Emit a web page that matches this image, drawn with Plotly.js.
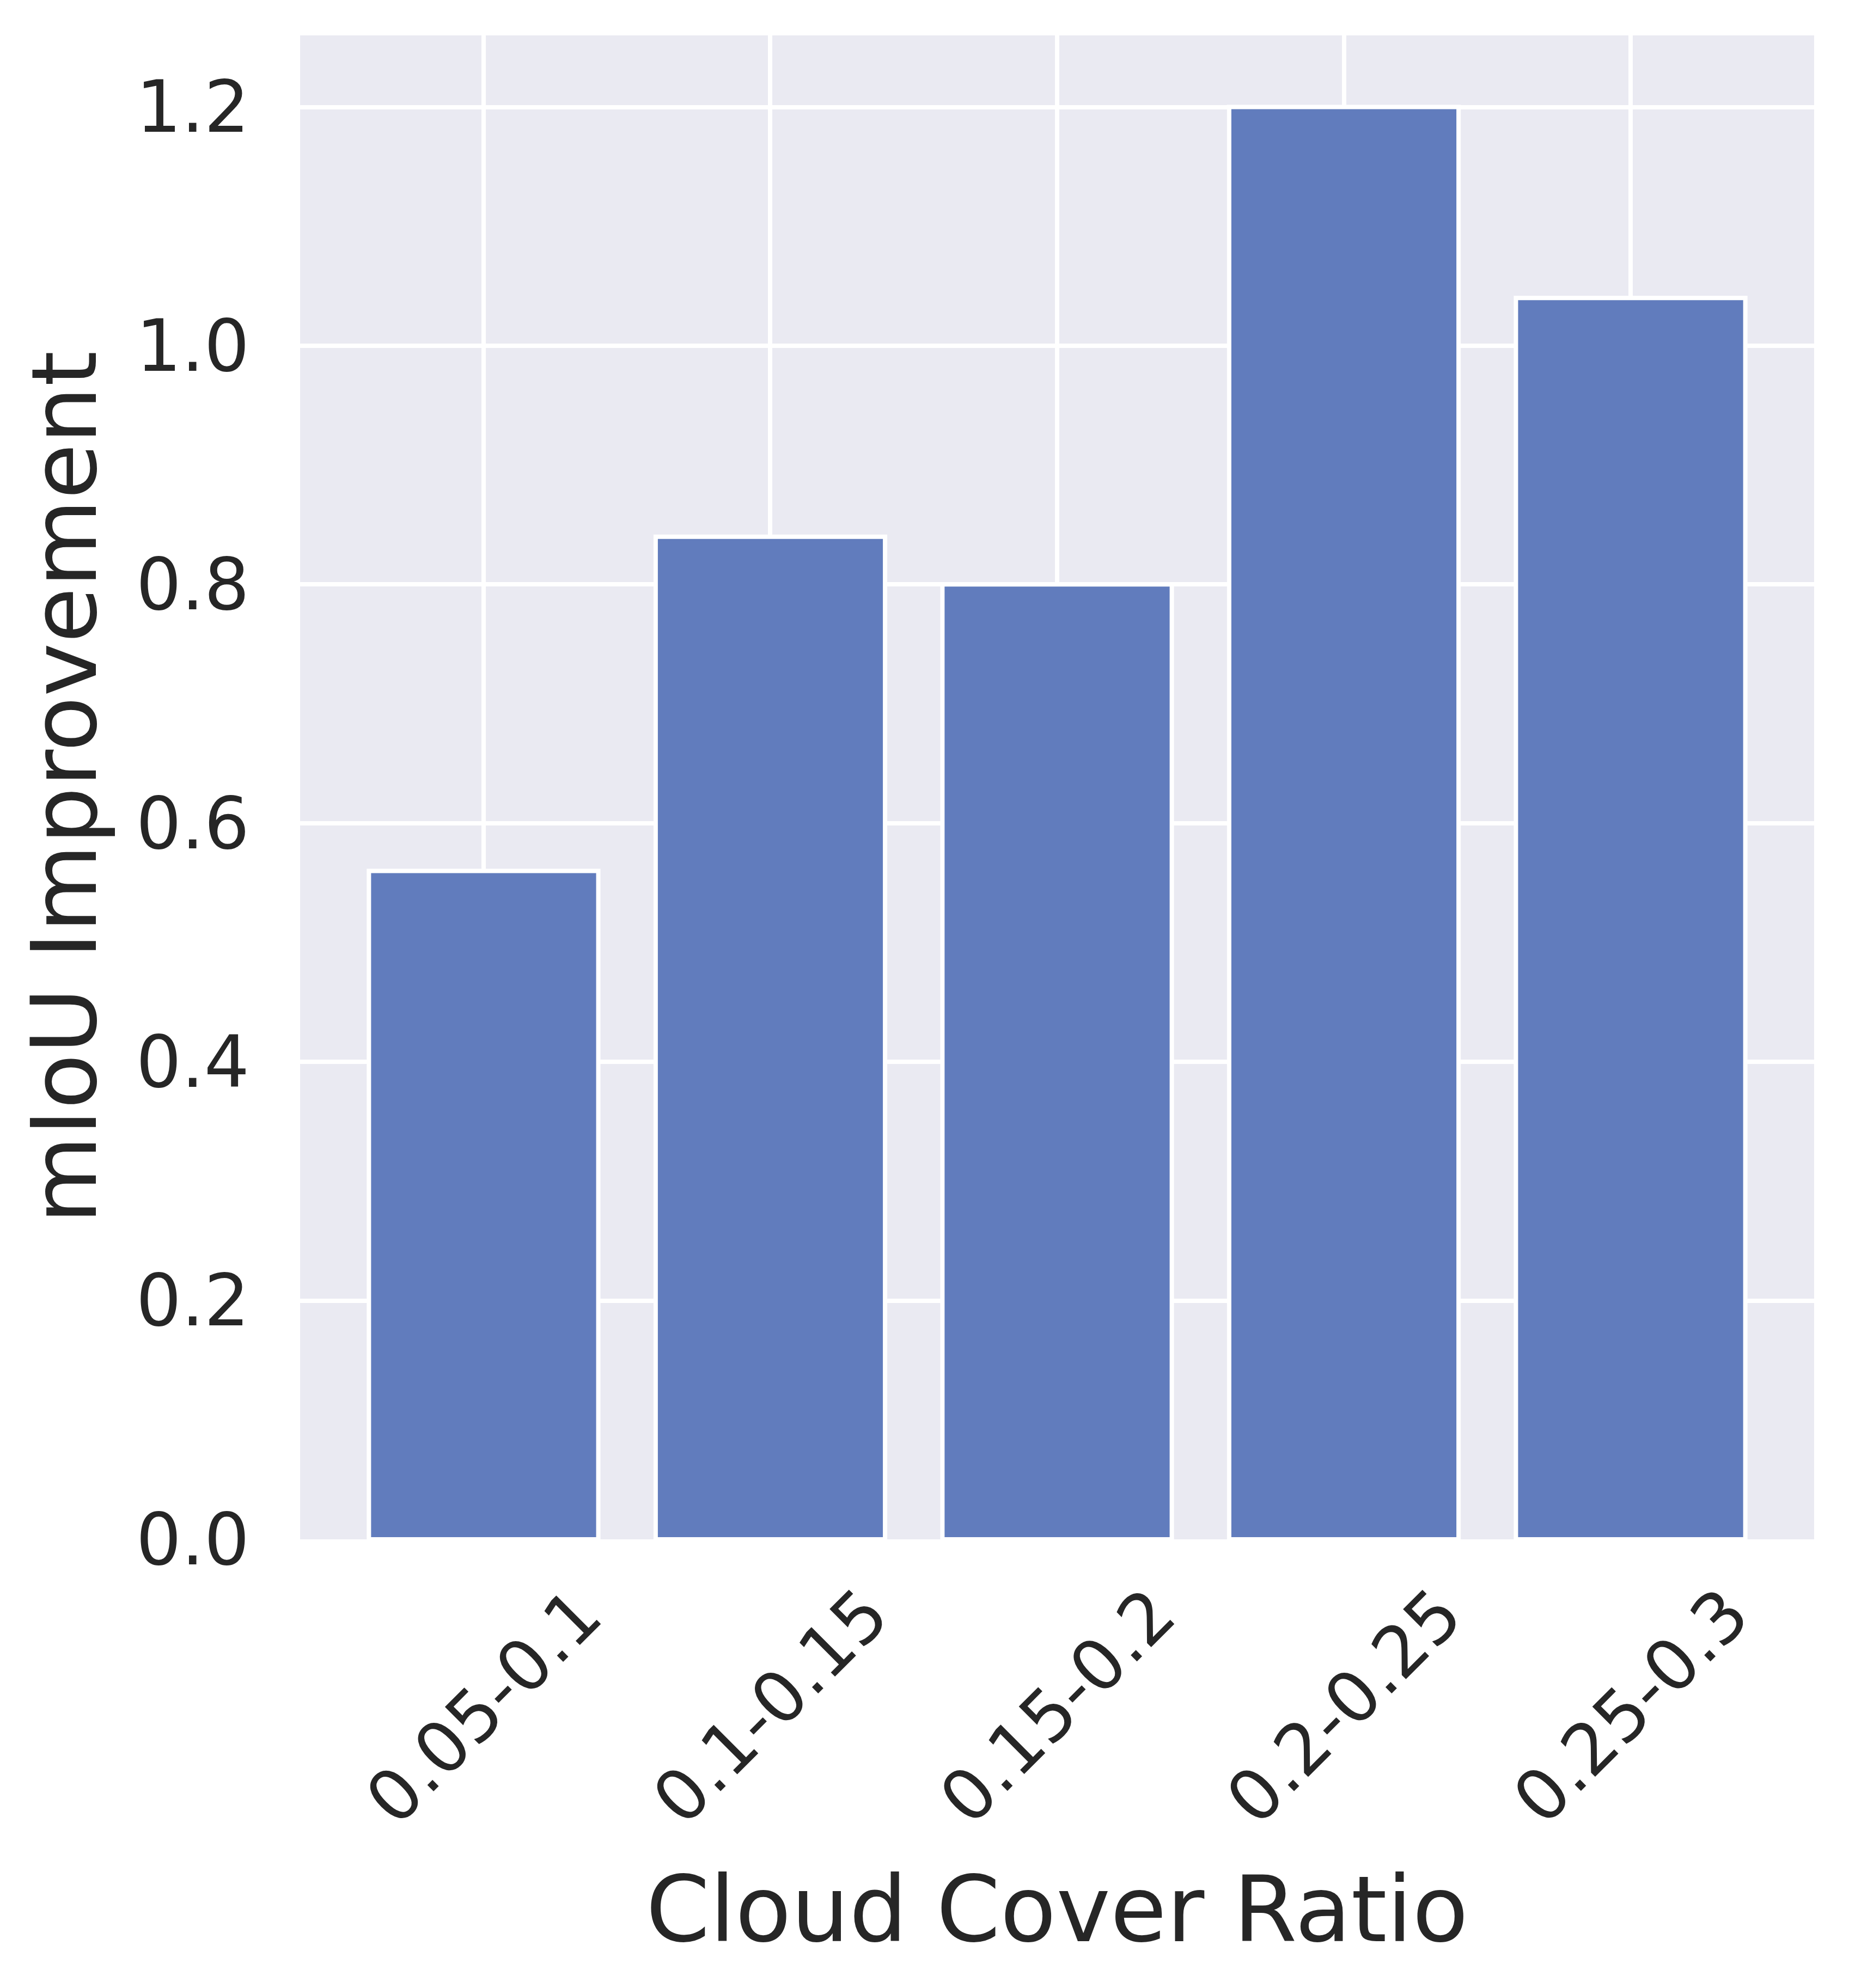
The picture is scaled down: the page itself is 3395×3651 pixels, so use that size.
<!DOCTYPE html>
<html>
<head>
<meta charset="utf-8">
<script src="https://cdn.plot.ly/plotly-3.0.1.min.js"></script>
<style>
  html, body { margin: 0; padding: 0; background: #ffffff; }
</style>
</head>
<body>
<div id="myDiv"></div>
<script>
var ratios = ['0.05-0.1', '0.1-0.15', '0.15-0.2', '0.2-0.25', '0.25-0.3'];
var improvement = [0.56, 0.84, 0.80, 1.20, 1.04];
var yTicks = [0, 0.2, 0.4, 0.6, 0.8, 1.0, 1.2];
var yTickText = ['0.0', '0.2', '0.4', '0.6', '0.8', '1.0', '1.2'];

var textColor = '#262626';
var fontFamily = 'DejaVu Sans, Liberation Sans, sans-serif';

var data = [{
    x: ratios,
    y: improvement,
    type: 'bar',
    width: 0.8,
    marker: {
        color: 'rgb(97,124,189)',
        line: {color: '#ffffff', width: 8}
    },
    hoverinfo: 'x+y'
}];

// rotated labels centred on each bar, like matplotlib's rotation=45
var tickLabels = ratios.map(function (r) {
    return {
        x: r,
        y: 0,
        xref: 'x',
        yref: 'paper',
        yanchor: 'top',
        xanchor: 'center',
        yshift: -58,
        text: r,
        textangle: -45,
        showarrow: false,
        font: {family: fontFamily, size: 130, color: textColor}
    };
});

var layout = {
    width: 3395,
    height: 3651,
    margin: {l: 551, r: 64, t: 65, b: 824},
    paper_bgcolor: '#ffffff',
    plot_bgcolor: '#EAEAF2',
    showlegend: false,
    bargap: 0.2,
    font: {family: fontFamily, color: textColor},
    xaxis: {
        type: 'category',
        range: [-0.64, 4.64],
        showticklabels: false,
        ticks: '',
        showgrid: true,
        gridcolor: '#ffffff',
        gridwidth: 8,
        zeroline: false,
        showline: false,
        automargin: false,
        title: {
            text: 'Cloud Cover Ratio',
            font: {family: fontFamily, size: 168, color: textColor},
            standoff: 620
        }
    },
    yaxis: {
        range: [0, 1.26],
        tickvals: yTicks,
        ticktext: yTickText,
        ticks: '',
        ticklabelstandoff: 92,
        tickfont: {family: fontFamily, size: 131, color: textColor},
        showgrid: true,
        gridcolor: '#ffffff',
        gridwidth: 8,
        zeroline: false,
        showline: false,
        automargin: false,
        title: {
            text: 'mIoU Improvement',
            font: {family: fontFamily, size: 166, color: textColor},
            standoff: 16
        }
    },
    annotations: tickLabels
};

Plotly.newPlot('myDiv', data, layout, {displayModeBar: false});
</script>
</body>
</html>
